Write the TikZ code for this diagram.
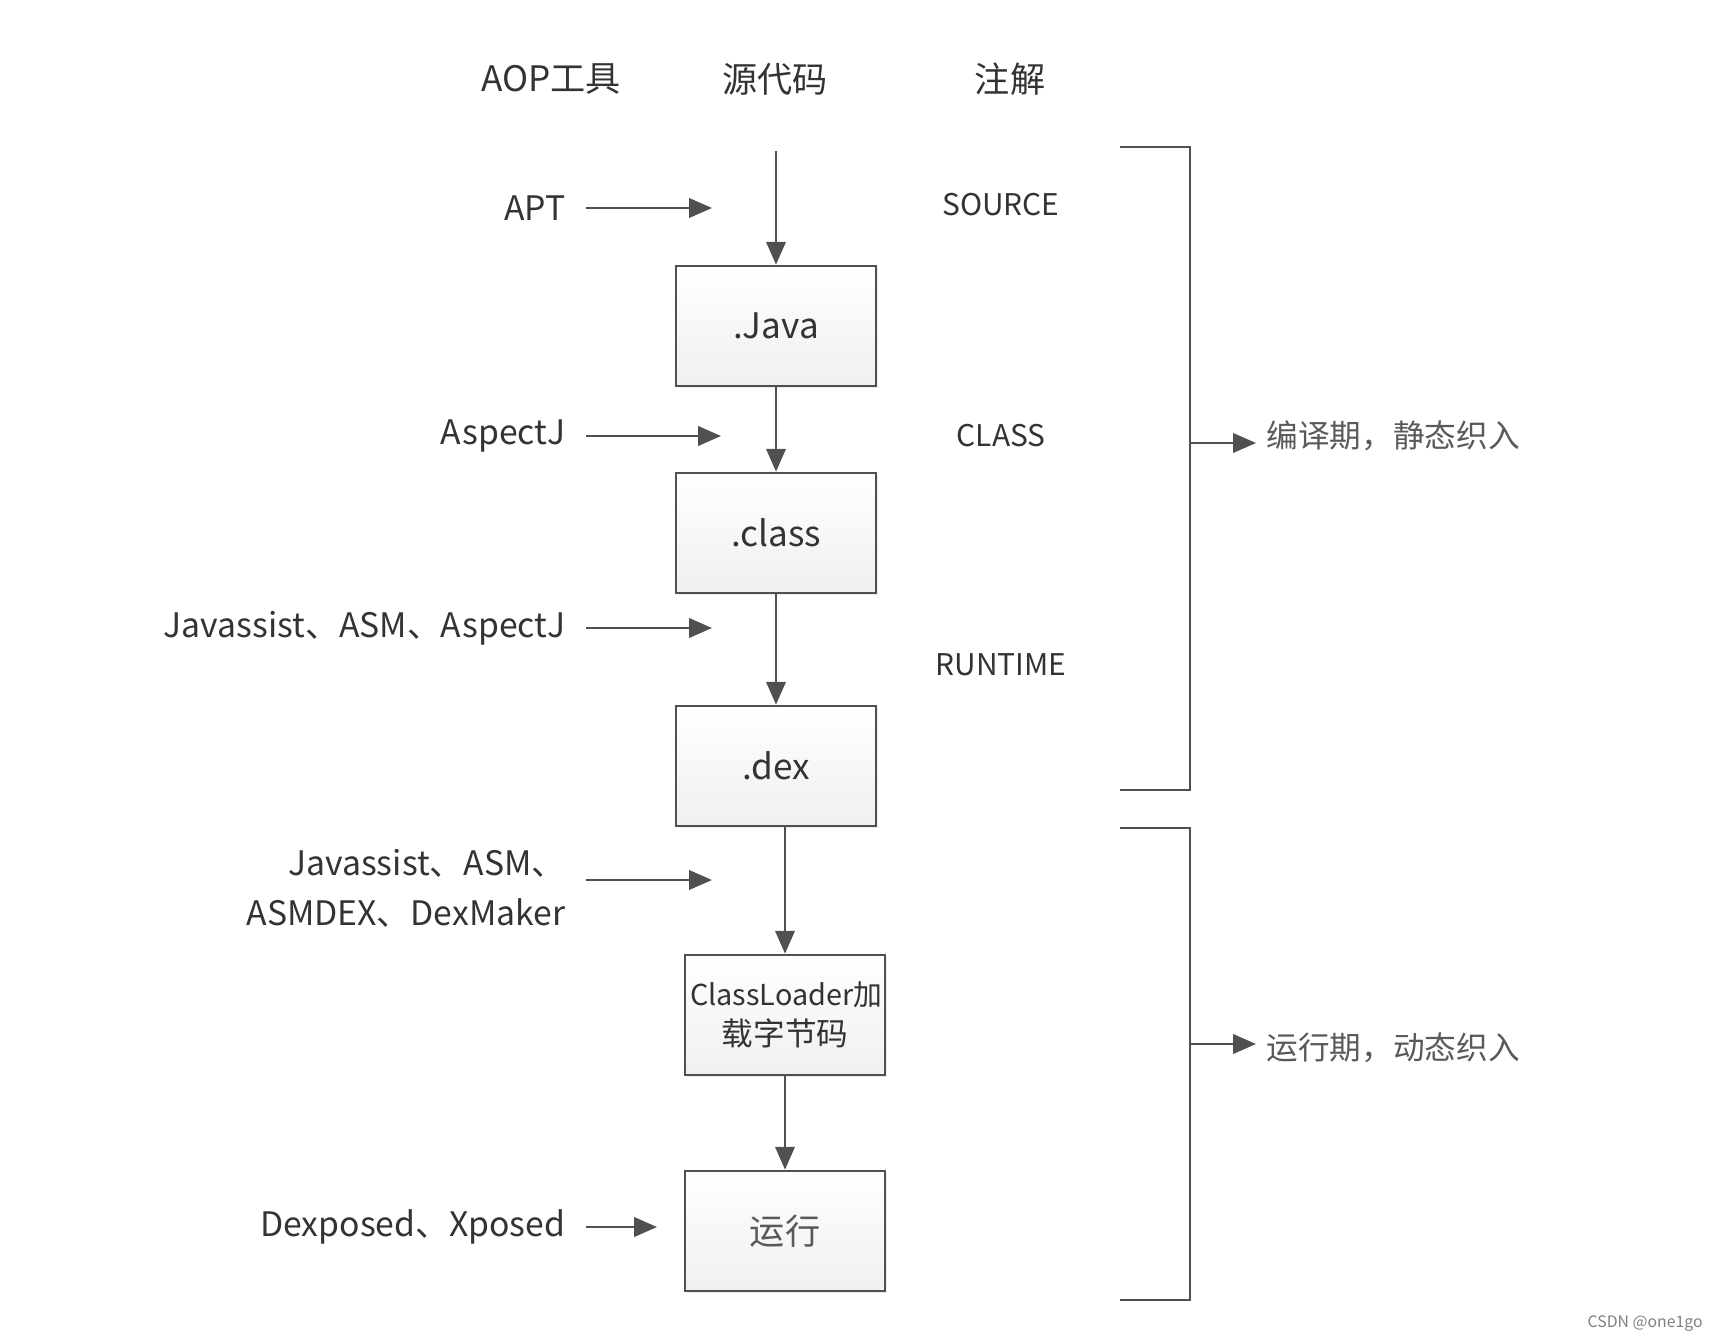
\documentclass[tikz,border=0pt]{standalone}
\usepackage{fontspec}
\setmainfont{Noto Sans CJK SC}
\usetikzlibrary{positioning,arrows.meta,shadows}
\definecolor{linegray}{HTML}{505050}
\definecolor{txtgray}{HTML}{333333}

\begin{document}
\begin{tikzpicture}[
    every node/.style={font=\fontsize{10}{14.2}\selectfont, text=txtgray, align=center},
    box/.style={rectangle, draw=linegray, line width=0.75pt, top color=white, bottom color=gray!12, minimum width=2.0cm, minimum height=1.2cm, text width=1.9cm, inner sep=1pt, drop shadow={opacity=0.15, shadow xshift=0.6pt, shadow yshift=-0.6pt}},
    lbl/.style={anchor=east, inner xsep=2mm, font=\fontsize{9.6}{14.2}\selectfont},
    ann/.style={font=\fontsize{8.5}{10}\selectfont},
    phase/.style={anchor=west, inner xsep=1mm, text=black!65, font=\fontsize{9}{11}\selectfont},
    arr/.style={-{Triangle[length=6.5pt, width=5.5pt]}, line width=0.75pt, linegray},
    brk/.style={line width=0.75pt, linegray}
]
\useasboundingbox (0,0) rectangle (17.18,-13.40);

% column heads
\node (tool) at (5.51,-0.79) {AOP工具};
\node (srccode) at (7.75,-0.79) {源代码};
\node (anno) at (10.10,-0.79) {注解};

% main chain
\coordinate (src) at (7.76,-1.51);
\node[box] (java) at (7.76,-3.26) {.Java};
\node[box] (class) at (7.76,-5.33) {.class};
\node[box] (dex) at (7.76,-7.66) {.dex};
\node[box, font=\fontsize{8.2}{11.5}\selectfont] (loader) at (7.85,-10.15) {ClassLoader加\\{\fontsize{9}{11.5}\selectfont 载字节码}};
\node[box, text=black!65] (run) at (7.85,-12.31) {运行};
\draw[arr] (src) -- (java);
\draw[arr] (java) -- (class);
\draw[arr] (class) -- (dex);
\draw[arr] (dex.south -| loader.north) -- (loader.north);
\draw[arr] (loader) -- (run);

% tools
\node[lbl] (apt) at (5.86,-2.08) {APT};
\coordinate (aptend) at (7.12,-2.08);
\draw[arr] (apt) -- (aptend);
\node[lbl] (aspj) at (5.86,-4.36) {AspectJ};
\coordinate (aspjend) at (7.21,-4.36);
\draw[arr] (aspj) -- (aspjend);
\node[lbl] (jv1) at (5.86,-6.28) {Javassist、ASM、AspectJ};
\coordinate (jv1end) at (7.12,-6.28);
\draw[arr] (jv1) -- (jv1end);
\node[lbl, align=right] (jv2) at (5.86,-8.88) {Javassist、ASM、\\ASMDEX、DexMaker};
\coordinate (jv2end) at (7.12,-8.80);
\draw[arr] (jv2.east |- jv2end) -- (jv2end);
\node[lbl] (xp) at (5.86,-12.27) {Dexposed、Xposed};
\coordinate (xpend) at (6.57,-12.27);
\draw[arr] (xp) -- (xpend);

% retention
\node[ann] (source) at (10.01,-2.05) {SOURCE};
\node[ann] (classret) at (10.01,-4.36) {CLASS};
\node[ann] (runtime) at (10.01,-6.65) {RUNTIME};

% phases
\coordinate (b1top) at (11.20,-1.47);
\coordinate (b1bot) at (11.20,-7.90);
\coordinate (b1mid) at (11.90,-4.43);
\draw[brk] (b1top) -- ++(0.70,0) |- (b1bot);
\node[phase] (static) at (12.56,-4.36) {编译期，静态织入};
\draw[arr] (b1mid) -- (b1mid -| static.west);

\coordinate (b2top) at (11.20,-8.28);
\coordinate (b2bot) at (11.20,-13.00);
\coordinate (b2mid) at (11.90,-10.44);
\draw[brk] (b2top) -- ++(0.70,0) |- (b2bot);
\node[phase] (dynamic) at (12.56,-10.48) {运行期，动态织入};
\draw[arr] (b2mid) -- (b2mid -| dynamic.west);

\node[anchor=east, text=gray, font=\fontsize{4.5}{5}\selectfont] (mark) at (17.15,-13.24) {CSDN @one1go};
\end{tikzpicture}
\end{document}
